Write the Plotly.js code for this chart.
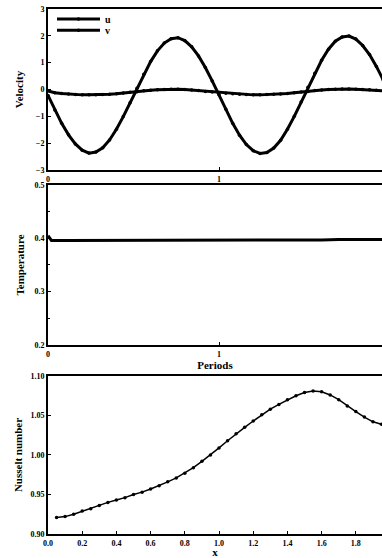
<!DOCTYPE html>
<html>
<head>
<meta charset="utf-8">
<script src="https://cdn.plot.ly/plotly-3.0.1.min.js"></script>
<style>html,body{margin:0;padding:0;background:#fff;}#chart{width:382px;height:558px;}</style>
</head>
<body>
<div id="chart"></div>
<script>
// ---- Velocity panel (x in periods) ----
const periods = [0.00,0.04,0.08,0.12,0.16,0.20,0.24,0.28,0.32,0.36,0.40,0.44,0.48,0.52,0.56,0.60,0.64,0.68,0.72,0.76,0.80,0.84,0.88,0.92,0.96,
                 1.00,1.04,1.08,1.12,1.16,1.20,1.24,1.28,1.32,1.36,1.40,1.44,1.48,1.52,1.56,1.60,1.64,1.68,1.72,1.76,1.80,1.84,1.88,1.92,1.96];
const uVel = [-0.22,-0.76,-1.26,-1.69,-2.03,-2.26,-2.37,-2.33,-2.17,-1.88,-1.48,-1.01,-0.49,0.05,0.57,1.04,1.44,1.73,1.89,1.93,1.82,1.59,1.25,0.82,0.32,
              -0.20,-0.74,-1.26,-1.70,-2.05,-2.28,-2.38,-2.35,-2.18,-1.89,-1.48,-1.00,-0.47,0.08,0.61,1.09,1.50,1.80,1.96,1.99,1.88,1.64,1.30,0.86,0.36];
const vVel = [-0.05,-0.12,-0.15,-0.17,-0.19,-0.20,-0.20,-0.20,-0.19,-0.18,-0.16,-0.13,-0.10,-0.08,-0.05,-0.03,-0.01,0.00,0.01,0.01,0.00,-0.02,-0.04,-0.07,-0.09,
              -0.11,-0.14,-0.16,-0.18,-0.19,-0.20,-0.20,-0.19,-0.18,-0.17,-0.15,-0.12,-0.09,-0.07,-0.04,-0.02,0.00,0.01,0.02,0.02,0.01,0.00,-0.01,-0.03,-0.05];

// ---- Temperature panel ----
const tPeriods = [0.00,0.02,0.10,0.20,0.30,0.40,0.50,0.60,0.70,0.80,0.90,1.00,1.10,1.20,1.30,1.40,1.50,1.60,1.70,1.80,1.90,1.96];
const temperature = [0.405,0.396,0.396,0.396,0.396,0.396,0.396,0.396,0.396,0.396,0.396,0.396,0.396,0.396,0.397,0.397,0.397,0.397,0.398,0.398,0.398,0.398];

// ---- Nusselt number panel ----
const xPos = [0.05,0.10,0.15,0.20,0.25,0.30,0.35,0.40,0.45,0.50,0.55,0.60,0.65,0.70,0.75,0.80,0.85,0.90,0.95,1.00,
              1.05,1.10,1.15,1.20,1.25,1.30,1.35,1.40,1.45,1.50,1.55,1.60,1.65,1.70,1.75,1.80,1.85,1.90,1.95];
const nusselt = [0.921,0.922,0.925,0.929,0.932,0.936,0.940,0.943,0.946,0.950,0.953,0.957,0.961,0.966,0.971,0.977,0.984,0.992,1.000,1.009,
                 1.018,1.027,1.035,1.043,1.051,1.058,1.064,1.070,1.075,1.079,1.081,1.080,1.076,1.070,1.062,1.055,1.048,1.042,1.039];

const velTicks = [-3,-2,-1,0,1,2,3];
const tempTicks = [0.2,0.3,0.4,0.5];
const nuTicks = [0.90,0.95,1.00,1.05,1.10];
const nuTickText = ['0.90','0.95','1.00','1.05','1.10'];
const xTicks = [0.0,0.2,0.4,0.6,0.8,1.0,1.2,1.4,1.6,1.8,2.0];

const FONT = 'Liberation Serif, Times New Roman, serif';
const tickFont = {family: FONT, size: 8, color: '#000', weight: 'bold'};
const titleFont = {family: FONT, size: 11, color: '#000', weight: 'bold'};

const traces = [
  {x: periods, y: uVel, name: 'u', type: 'scatter', mode: 'lines+markers',
   line: {color: '#000', width: 3}, marker: {color: '#000', size: 3.5}, xaxis: 'x', yaxis: 'y', legend: 'legend'},
  {x: periods, y: vVel, name: 'v', type: 'scatter', mode: 'lines+markers',
   line: {color: '#000', width: 3}, marker: {color: '#000', size: 3.5}, xaxis: 'x', yaxis: 'y', legend: 'legend2'},
  {x: tPeriods, y: temperature, name: 'T', type: 'scatter', mode: 'lines',
   line: {color: '#000', width: 3}, xaxis: 'x2', yaxis: 'y2', showlegend: false},
  {x: xPos, y: nusselt, name: 'Nu', type: 'scatter', mode: 'lines+markers',
   line: {color: '#000', width: 1.5}, marker: {color: '#000', size: 3.5}, xaxis: 'x3', yaxis: 'y3', showlegend: false}
];

const axBase = {showline: true, mirror: true, linecolor: '#000', linewidth: 2, showgrid: false, zeroline: false,
  ticks: 'inside', ticklen: 3, tickwidth: 1, tickcolor: '#000', tickfont: tickFont, fixedrange: true};

const layout = {
  width: 382, height: 558,
  margin: {l: 48, r: 0, t: 0, b: 0},
  paper_bgcolor: '#fff', plot_bgcolor: '#fff',
  font: {family: FONT, color: '#000'},
  xaxis: Object.assign({}, axBase, {domain: [0,1], range: [0, 1.953], tickvals: [0,1], ticktext: ['0','1'], anchor: 'y'}),
  yaxis: Object.assign({}, axBase, {domain: [0.6953, 0.9839], range: [-3, 3], tickvals: velTicks, anchor: 'x',
    title: {text: 'Velocity', font: titleFont, standoff: 10}}),
  xaxis2: Object.assign({}, axBase, {domain: [0,1], range: [0, 1.953], tickvals: [0,1], ticktext: ['0','1'], anchor: 'y2',
    title: {text: 'Periods', font: titleFont, standoff: 2}}),
  yaxis2: Object.assign({}, axBase, {domain: [0.3817, 0.6685], range: [0.2, 0.5], tickvals: tempTicks, ticktext: ['0.2','0.3','0.4','0.5'], anchor: 'x2',
    minor: {ticks: 'inside', ticklen: 2, tickvals: [0.25,0.35,0.45], tickcolor: '#000'},
    title: {text: 'Temperature', font: titleFont, standoff: 8}}),
  xaxis3: Object.assign({}, axBase, {domain: [0,1], range: [0, 1.953], tickvals: xTicks, tickformat: '.1f', anchor: 'y3',
    title: {text: 'x', font: titleFont, standoff: 1}}),
  yaxis3: Object.assign({}, axBase, {domain: [0.0430, 0.3262], range: [0.90, 1.10], tickvals: nuTicks, ticktext: nuTickText, anchor: 'x3',
    title: {text: 'Nusselt number', font: titleFont, standoff: 6}}),
  legend: {x: 0.012, xanchor: 'left', y: 0.966, yanchor: 'middle', bgcolor: 'rgba(0,0,0,0)', borderwidth: 0,
    font: {family: FONT, size: 10, color: '#000', weight: 'bold'}, itemwidth: 43},
  legend2: {x: 0.012, xanchor: 'left', y: 0.946, yanchor: 'middle', bgcolor: 'rgba(0,0,0,0)', borderwidth: 0,
    font: {family: FONT, size: 10, color: '#000', weight: 'bold'}, itemwidth: 43},
  showlegend: true
};

Plotly.newPlot('chart', traces, layout, {displayModeBar: false, staticPlot: true});
</script>
</body>
</html>
